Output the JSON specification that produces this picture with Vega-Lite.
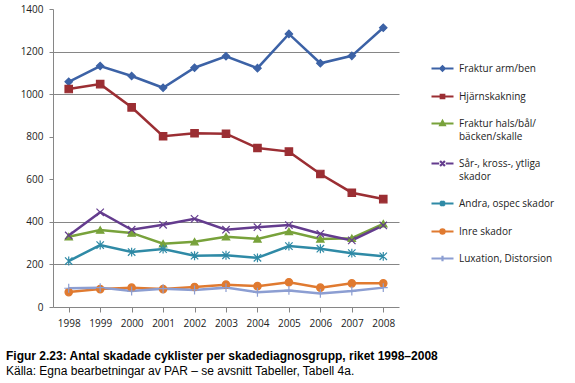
{
  "$schema": "https://vega.github.io/schema/vega-lite/v6.json",
  "width": 346,
  "height": 298,
  "autosize": "none",
  "padding": {"left": 53, "top": 9, "right": 176, "bottom": 76},
  "background": "white",
  "config": {
    "view": {"stroke": null},
    "font": "Open Sans",
    "axis": {"labelFont": "Open Sans", "labelFontSize": 10, "labelColor": "#222"},
    "legend": {"labelFont": "Open Sans", "labelFontSize": 10, "labelColor": "#222"}
  },
  "title": {
    "text": "Figur 2.23: Antal skadade cyklister per skadediagnosgrupp, riket 1998–2008",
    "subtitle": "Källa: Egna bearbetningar av PAR – se avsnitt Tabeller, Tabell 4a.",
    "orient": "bottom",
    "anchor": "start",
    "frame": "group",
    "dx": -47,
    "offset": 23,
    "font": "Liberation Sans",
    "fontSize": 12,
    "fontWeight": "bold",
    "color": "#000",
    "subtitleFont": "Liberation Sans",
    "subtitleFontSize": 12,
    "subtitleColor": "#000",
    "subtitlePadding": 3
  },
  "data": {
    "values": [
      {"year": "1998", "cat": "Fraktur arm/ben", "value": 1058},
      {"year": "1999", "cat": "Fraktur arm/ben", "value": 1132},
      {"year": "2000", "cat": "Fraktur arm/ben", "value": 1085},
      {"year": "2001", "cat": "Fraktur arm/ben", "value": 1030},
      {"year": "2002", "cat": "Fraktur arm/ben", "value": 1124},
      {"year": "2003", "cat": "Fraktur arm/ben", "value": 1178},
      {"year": "2004", "cat": "Fraktur arm/ben", "value": 1122},
      {"year": "2005", "cat": "Fraktur arm/ben", "value": 1283},
      {"year": "2006", "cat": "Fraktur arm/ben", "value": 1145},
      {"year": "2007", "cat": "Fraktur arm/ben", "value": 1180},
      {"year": "2008", "cat": "Fraktur arm/ben", "value": 1312},
      {"year": "1998", "cat": "Hjärnskakning", "value": 1024},
      {"year": "1999", "cat": "Hjärnskakning", "value": 1047},
      {"year": "2000", "cat": "Hjärnskakning", "value": 938},
      {"year": "2001", "cat": "Hjärnskakning", "value": 802},
      {"year": "2002", "cat": "Hjärnskakning", "value": 816},
      {"year": "2003", "cat": "Hjärnskakning", "value": 814},
      {"year": "2004", "cat": "Hjärnskakning", "value": 747},
      {"year": "2005", "cat": "Hjärnskakning", "value": 730},
      {"year": "2006", "cat": "Hjärnskakning", "value": 625},
      {"year": "2007", "cat": "Hjärnskakning", "value": 537},
      {"year": "2008", "cat": "Hjärnskakning", "value": 507},
      {"year": "1998", "cat": "Fraktur hals/bål/bäcken/skalle", "value": 330},
      {"year": "1999", "cat": "Fraktur hals/bål/bäcken/skalle", "value": 362},
      {"year": "2000", "cat": "Fraktur hals/bål/bäcken/skalle", "value": 348},
      {"year": "2001", "cat": "Fraktur hals/bål/bäcken/skalle", "value": 297},
      {"year": "2002", "cat": "Fraktur hals/bål/bäcken/skalle", "value": 307},
      {"year": "2003", "cat": "Fraktur hals/bål/bäcken/skalle", "value": 330},
      {"year": "2004", "cat": "Fraktur hals/bål/bäcken/skalle", "value": 320},
      {"year": "2005", "cat": "Fraktur hals/bål/bäcken/skalle", "value": 355},
      {"year": "2006", "cat": "Fraktur hals/bål/bäcken/skalle", "value": 320},
      {"year": "2007", "cat": "Fraktur hals/bål/bäcken/skalle", "value": 323},
      {"year": "2008", "cat": "Fraktur hals/bål/bäcken/skalle", "value": 391},
      {"year": "1998", "cat": "Sår-, kross-,  ytliga skador", "value": 336},
      {"year": "1999", "cat": "Sår-, kross-,  ytliga skador", "value": 445},
      {"year": "2000", "cat": "Sår-, kross-,  ytliga skador", "value": 363},
      {"year": "2001", "cat": "Sår-, kross-,  ytliga skador", "value": 386},
      {"year": "2002", "cat": "Sår-, kross-,  ytliga skador", "value": 414},
      {"year": "2003", "cat": "Sår-, kross-,  ytliga skador", "value": 363},
      {"year": "2004", "cat": "Sår-, kross-,  ytliga skador", "value": 375},
      {"year": "2005", "cat": "Sår-, kross-,  ytliga skador", "value": 385},
      {"year": "2006", "cat": "Sår-, kross-,  ytliga skador", "value": 344},
      {"year": "2007", "cat": "Sår-, kross-,  ytliga skador", "value": 313},
      {"year": "2008", "cat": "Sår-, kross-,  ytliga skador", "value": 383},
      {"year": "1998", "cat": "Andra, ospec skador", "value": 216},
      {"year": "1999", "cat": "Andra, ospec skador", "value": 291},
      {"year": "2000", "cat": "Andra, ospec skador", "value": 258},
      {"year": "2001", "cat": "Andra, ospec skador", "value": 272},
      {"year": "2002", "cat": "Andra, ospec skador", "value": 241},
      {"year": "2003", "cat": "Andra, ospec skador", "value": 243},
      {"year": "2004", "cat": "Andra, ospec skador", "value": 231},
      {"year": "2005", "cat": "Andra, ospec skador", "value": 286},
      {"year": "2006", "cat": "Andra, ospec skador", "value": 274},
      {"year": "2007", "cat": "Andra, ospec skador", "value": 253},
      {"year": "2008", "cat": "Andra, ospec skador", "value": 238},
      {"year": "1998", "cat": "Inre skador", "value": 70},
      {"year": "1999", "cat": "Inre skador", "value": 84},
      {"year": "2000", "cat": "Inre skador", "value": 91},
      {"year": "2001", "cat": "Inre skador", "value": 84},
      {"year": "2002", "cat": "Inre skador", "value": 94},
      {"year": "2003", "cat": "Inre skador", "value": 105},
      {"year": "2004", "cat": "Inre skador", "value": 98},
      {"year": "2005", "cat": "Inre skador", "value": 116},
      {"year": "2006", "cat": "Inre skador", "value": 91},
      {"year": "2007", "cat": "Inre skador", "value": 111},
      {"year": "2008", "cat": "Inre skador", "value": 111},
      {"year": "1998", "cat": "Luxation, Distorsion", "value": 88},
      {"year": "1999", "cat": "Luxation, Distorsion", "value": 91},
      {"year": "2000", "cat": "Luxation, Distorsion", "value": 75},
      {"year": "2001", "cat": "Luxation, Distorsion", "value": 86},
      {"year": "2002", "cat": "Luxation, Distorsion", "value": 80},
      {"year": "2003", "cat": "Luxation, Distorsion", "value": 91},
      {"year": "2004", "cat": "Luxation, Distorsion", "value": 69},
      {"year": "2005", "cat": "Luxation, Distorsion", "value": 78},
      {"year": "2006", "cat": "Luxation, Distorsion", "value": 64},
      {"year": "2007", "cat": "Luxation, Distorsion", "value": 75},
      {"year": "2008", "cat": "Luxation, Distorsion", "value": 91}
    ]
  },
  "encoding": {
    "x": {
      "field": "year", "type": "ordinal", "title": null,
      "scale": {"type": "point", "padding": 0.5},
      "axis": {"labelAngle": 0, "grid": false, "domainColor": "#868686", "tickColor": "#868686",
               "tickSize": 5, "labelPadding": 6, "domainWidth": 1}
    },
    "y": {
      "field": "value", "type": "quantitative", "title": null,
      "scale": {"domain": [0, 1400], "nice": false},
      "axis": {"values": [0, 200, 400, 600, 800, 1000, 1200, 1400], "format": "d", "domainColor": "#868686",
               "tickColor": "#868686", "tickSize": 4, "labelPadding": 6,
               "gridColor": {"condition": {"test": "datum.value == 600 || datum.value == 800 || datum.value == 1400 || datum.value == 0", "value": "transparent"}, "value": "#868686"},
               "gridWidth": 1}
    },
    "color": {
      "field": "cat", "type": "nominal",
      "scale": {
        "domain": ["Fraktur arm/ben", "Hjärnskakning", "Fraktur hals/bål/bäcken/skalle", "Sår-, kross-,  ytliga skador", "Andra, ospec skador", "Inre skador", "Luxation, Distorsion"],
        "range": ["#3C62A6", "#9B2E33", "#78A23B", "#643C8E", "#2F8AA6", "#E07A30", "#8C9ED2"]
      }
    }
  },
  "layer": [
    {
      "mark": {"type": "line", "strokeWidth": 2.5},
      "encoding": {
        "color": {"field": "cat", "type": "nominal", "legend": null}
      }
    },
    {
      "mark": {"type": "point", "filled": false, "opacity": 1, "strokeWidth": 1.2},
      "encoding": {
        "color": {"field": "cat", "type": "nominal", "legend": null},
        "fill": {"field": "cat", "type": "nominal", "legend": null,
          "scale": {
            "domain": ["Fraktur arm/ben", "Hjärnskakning", "Fraktur hals/bål/bäcken/skalle", "Sår-, kross-,  ytliga skador", "Andra, ospec skador", "Inre skador", "Luxation, Distorsion"],
            "range": ["#3C62A6", "#9B2E33", "#78A23B", "#643C8E", "#2F8AA6", "#E07A30", "#8C9ED2"]
          }},
        "shape": {
          "field": "cat", "type": "nominal", "legend": null,
          "scale": {
            "domain": ["Fraktur arm/ben", "Hjärnskakning", "Fraktur hals/bål/bäcken/skalle", "Sår-, kross-,  ytliga skador", "Andra, ospec skador", "Inre skador", "Luxation, Distorsion"],
            "range": ["diamond", "square", "triangle-up", "M-1,-1L1,1M-1,1L1,-1", "M-1,-1L1,1M-1,1L1,-1M0,-1.2L0,1.2", "circle", "M-1.2,0L1.2,0M0,-1.2L0,1.2"]
          }
        },
        "size": {"value": 55}
      }
    },
    {
      "mark": {"type": "point", "filled": false, "opacity": 0},
      "encoding": {
        "color": {"field": "cat", "type": "nominal",
          "legend": {
            "title": null, "orient": "none", "legendX": 377, "legendY": 47,
            "symbolSize": 484, "symbolStrokeWidth": 2.2, "symbolOpacity": 1,
            "rowPadding": 8, "labelOffset": 4, "labelBaseline": "middle",
            "encode": {"labels": {"update": {"lineHeight": {"value": 13.6}}}},
            "labelExpr": "datum.label == 'Fraktur hals/bål/bäcken/skalle' ? ['Fraktur hals/bål/', 'bäcken/skalle'] : datum.label == 'Sår-, kross-,  ytliga skador' ? ['Sår-, kross-,  ytliga', 'skador'] : datum.label"
          }},
        "fill": {"field": "cat", "type": "nominal",
          "legend": {
            "title": null, "orient": "none", "legendX": 377, "legendY": 47,
            "symbolSize": 484, "symbolStrokeWidth": 2.2, "symbolOpacity": 1,
            "rowPadding": 8, "labelOffset": 4, "labelBaseline": "middle",
            "encode": {"labels": {"update": {"lineHeight": {"value": 13.6}}}},
            "labelExpr": "datum.label == 'Fraktur hals/bål/bäcken/skalle' ? ['Fraktur hals/bål/', 'bäcken/skalle'] : datum.label == 'Sår-, kross-,  ytliga skador' ? ['Sår-, kross-,  ytliga', 'skador'] : datum.label"
          }},
        "shape": {
          "field": "cat", "type": "nominal",
          "scale": {
            "domain": ["Fraktur arm/ben", "Hjärnskakning", "Fraktur hals/bål/bäcken/skalle", "Sår-, kross-,  ytliga skador", "Andra, ospec skador", "Inre skador", "Luxation, Distorsion"],
            "range": [
              "M-1,0H1M0,-0.2L0.2,0L0,0.2L-0.2,0Z",
              "M-1,0H1M-0.16,-0.16H0.16V0.16H-0.16Z",
              "M-1,0H1M0,-0.22L0.2,0.14H-0.2Z",
              "M-1,0H-0.3M0.3,0H1M-0.22,-0.22L0.22,0.22M-0.22,0.22L0.22,-0.22",
              "M-1,0H1M-0.2,-0.2L0.2,0.2M-0.2,0.2L0.2,-0.2M0,-0.26V0.26",
              "M-1,0H1M0.19,0A0.19,0.19 0 1 1 -0.19,0A0.19,0.19 0 1 1 0.19,0Z",
              "M-1,0H1M0,-0.26V0.26"
            ]
          },
          "legend": {
            "title": null, "orient": "none", "legendX": 377, "legendY": 47,
            "symbolSize": 484, "symbolStrokeWidth": 2.2, "symbolOpacity": 1,
            "rowPadding": 8, "labelOffset": 4, "labelBaseline": "middle",
            "encode": {"labels": {"update": {"lineHeight": {"value": 13.6}}}},
            "labelExpr": "datum.label == 'Fraktur hals/bål/bäcken/skalle' ? ['Fraktur hals/bål/', 'bäcken/skalle'] : datum.label == 'Sår-, kross-,  ytliga skador' ? ['Sår-, kross-,  ytliga', 'skador'] : datum.label"
          }
        },
        "size": {"value": 55}
      }
    }
  ],
  "resolve": {"scale": {"shape": "independent"}, "legend": {"color": "independent", "fill": "independent", "shape": "independent"}}
}
